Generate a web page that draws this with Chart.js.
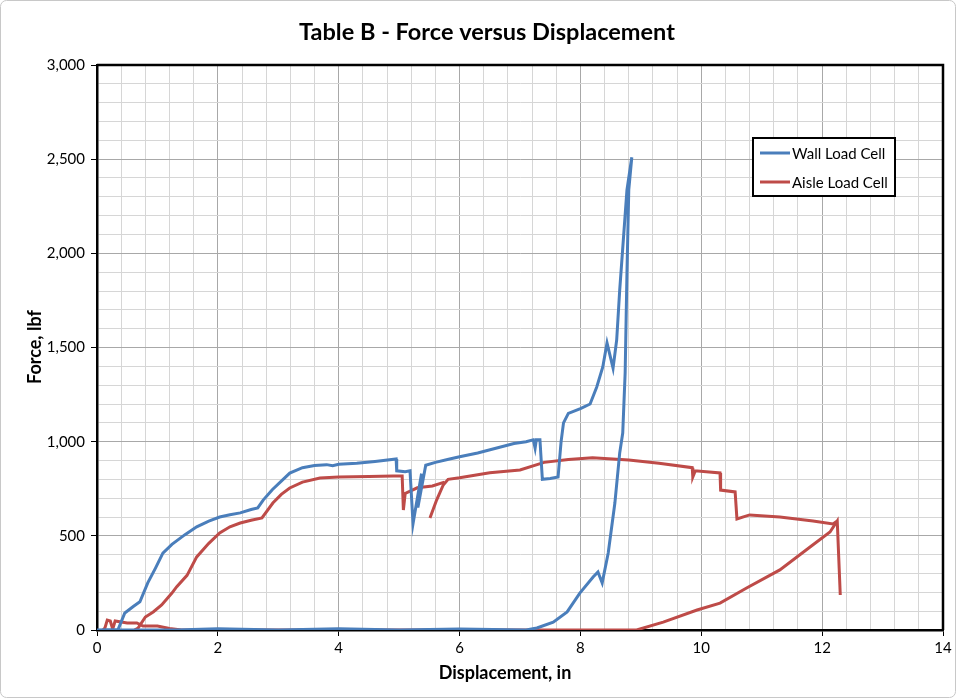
<!DOCTYPE html>
<html>
<head>
<meta charset="utf-8">
<script src="https://cdn.jsdelivr.net/npm/chart.js@4.4.1/dist/chart.umd.min.js"></script>
<style>
  html, body { margin: 0; padding: 0; background: #fff; }
  #wrap { width: 956px; height: 698px; position: relative; }
</style>
</head>
<body>
<div id="wrap"><canvas id="chart" width="956" height="698"></canvas></div>
<script>
const chartTitle = 'Table B - Force versus Displacement';
const xTitle = 'Displacement, in';
const yTitle = 'Force, lbf';
const seriesNames = ['Wall Load Cell', 'Aisle Load Cell'];

// wall load cell: loading to peak, unloading back to zero, then along zero
const wallX = [0, 0.35, 0.46, 0.6, 0.71, 0.84, 0.97, 1.09, 1.24, 1.45, 1.65, 1.85, 2.03, 2.2, 2.37, 2.55, 2.66, 2.75, 2.9, 3.05, 3.19, 3.4, 3.6, 3.8, 3.9, 4.0, 4.3, 4.6, 4.95,
  4.96, 5.1, 5.18, 5.23, 5.37, 5.31, 5.44, 5.6, 5.8, 6.0, 6.3, 6.6, 6.9, 7.1, 7.22, 7.25, 7.27, 7.33, 7.37, 7.5, 7.63, 7.68, 7.72, 7.8, 8.0, 8.16, 8.27, 8.37, 8.44, 8.54, 8.6, 8.65, 8.71, 8.77, 8.85,
  8.8, 8.77, 8.74, 8.7, 8.65, 8.57, 8.46, 8.36, 8.29, 8.21, 7.99, 7.78, 7.55, 7.28, 7.1, 6.0, 5.0, 4.0, 3.0, 2.0, 1.3, 0.35];
const wallY = [0, 3, 90, 125, 150, 250, 330, 408, 455, 505, 548, 578, 600, 612, 622, 640, 648, 690, 745, 790, 833, 862, 873, 878, 872, 880, 885, 895, 908,
  845, 840, 845, 565, 830, 650, 875, 890, 905, 920, 940, 965, 990, 1000, 1010, 965, 1010, 1010, 800, 805, 812, 1000, 1100, 1150, 1175, 1200, 1290, 1397, 1524, 1390, 1540, 1805, 2071, 2337, 2510,
  2337, 1896, 1365, 1046, 940, 674, 409, 250, 308, 281, 196, 96, 42, 11, 0, 5, 0, 6, 0, 6, 0, 0];

// aisle load cell: null entries break the line
const aisleX = [0.1, 0.13, 0.17, 0.22, 0.26, 0.3, 0.5, 0.66, 0.76, 1.0, 1.2, 1.4, 3.5, 6.0, 8.0, 8.93, 9.37, 9.93, 10.31, 10.75, 11.3, 11.8, 12.13, 12.25, 12.3,
  null,
  0.62, 0.68, 0.8, 0.93, 1.07, 1.24, 1.32, 1.49, 1.65, 1.85, 2.03, 2.2, 2.37, 2.55, 2.73, 2.91, 3.05, 3.19, 3.4, 3.69, 4.0, 4.5, 4.9, 5.05, 5.07, 5.1, 5.3, 5.55, 5.75,
  null,
  5.51, 5.62, 5.73, 5.81, 6.0, 6.5, 7.0, 7.4, 7.8, 8.2, 8.8, 9.3, 9.85, 9.86, 9.9, 10.31, 10.32, 10.56, 10.59, 10.8, 11.3, 11.85, 12.18, 12.25];
const aisleY = [0, 10, 53, 48, 5, 48, 37, 37, 21, 21, 8, 0, 0, 0, 0, 0, 42, 106, 143, 223, 319, 441, 520, 579, 186,
  null,
  0, 10, 69, 96, 133, 196, 230, 290, 388, 460, 515, 548, 568, 583, 595, 674, 720, 754, 785, 807, 812, 815, 818, 818, 637, 725, 755, 765, 785,
  null,
  595, 690, 770, 800, 808, 835, 850, 890, 905, 915, 903, 885, 862, 813, 845, 834, 743, 733, 590, 611, 600, 579, 563, 579];

const xMin = 0, xMax = 14, xMajor = 2, xMinor = 0.4;
const yMin = 0, yMax = 3000, yMajor = 500, yMinor = 100;

const toPoints = (xs, ys) => xs.map((x, i) => ({ x: x, y: ys[i] }));
const isMajor = (v, step) => Math.abs(v / step - Math.round(v / step)) < 1e-6;

const FONT = 'Lato';

const framePlugin = {
  id: 'frame',
  beforeDatasetsDraw(chart) {
    const { ctx, chartArea: a } = chart;
    ctx.save();
    ctx.strokeStyle = '#000';
    ctx.lineWidth = 2.5;
    ctx.beginPath();
    ctx.moveTo(a.left, a.top);
    ctx.lineTo(a.right, a.top);
    ctx.lineTo(a.right, a.bottom);
    ctx.stroke();
    ctx.restore();
  },
  afterDraw(chart) {
    const { ctx } = chart;
    ctx.save();
    // outer chart border
    ctx.strokeStyle = '#c8c8c8';
    ctx.lineWidth = 1;
    ctx.beginPath();
    ctx.roundRect(0.5, 0.5, chart.width - 1, chart.height - 1, 6);
    ctx.stroke();

    // titles
    ctx.fillStyle = '#000';
    ctx.textAlign = 'center';
    ctx.textBaseline = 'middle';
    ctx.font = 'bold 23.5px ' + FONT;
    ctx.fillText(chartTitle, 487, 32);
    ctx.font = 'bold 18px ' + FONT;
    ctx.fillText(xTitle, 505, 673);
    ctx.save();
    ctx.translate(35, 347);
    ctx.rotate(-Math.PI / 2);
    ctx.fillText(yTitle, 0, 0);
    ctx.restore();

    // legend box
    const bx = 753, by = 138, bw = 142, bh = 58;
    ctx.fillStyle = '#fff';
    ctx.fillRect(bx, by, bw, bh);
    ctx.strokeStyle = '#000';
    ctx.lineWidth = 2;
    ctx.strokeRect(bx, by, bw, bh);
    ctx.font = '15px ' + FONT;
    ctx.textAlign = 'left';
    chart.data.datasets.forEach((ds, i) => {
      const yy = 153 + i * 29;
      ctx.strokeStyle = ds.borderColor;
      ctx.lineWidth = 3;
      ctx.beginPath();
      ctx.moveTo(760, yy);
      ctx.lineTo(790, yy);
      ctx.stroke();
      ctx.fillStyle = '#000';
      ctx.fillText(ds.label, 792, yy + 1);
    });
    ctx.restore();
  }
};

new Chart(document.getElementById('chart'), {
  type: 'scatter',
  data: {
    datasets: [
      {
        label: seriesNames[0],
        data: toPoints(wallX, wallY),
        showLine: true,
        borderColor: '#4a7ebb',
        backgroundColor: '#4a7ebb',
        borderWidth: 3,
        pointRadius: 0,
        tension: 0
      },
      {
        label: seriesNames[1],
        data: toPoints(aisleX, aisleY),
        showLine: true,
        borderColor: '#be4b48',
        backgroundColor: '#be4b48',
        borderWidth: 3,
        pointRadius: 0,
        tension: 0
      }
    ]
  },
  options: {
    responsive: false,
    animation: false,
    devicePixelRatio: 1,
    layout: { padding: { top: 65, right: 13, left: 0, bottom: 0 } },
    plugins: {
      legend: { display: false },
      title: { display: false },
      tooltip: { enabled: false }
    },
    scales: {
      x: {
        type: 'linear',
        min: xMin,
        max: xMax,
        afterFit: (s) => { s.height = 68; },
        ticks: {
          stepSize: xMinor,
          autoSkip: false,
          maxRotation: 0,
          padding: 3,
          color: '#000',
          font: { family: FONT, size: 15 },
          callback: (v) => isMajor(v, xMajor) ? String(Math.round(v)) : ''
        },
        grid: {
          color: (c) => isMajor(c.tick.value, xMajor) ? '#a8a8a8' : '#d6d6d6',
          tickColor: (c) => isMajor(c.tick.value, xMajor) ? '#000' : 'rgba(0,0,0,0)',
          tickLength: 6,
          lineWidth: 1
        },
        border: { display: true, color: '#000', width: 2.5 }
      },
      y: {
        type: 'linear',
        min: yMin,
        max: yMax,
        afterFit: (s) => { s.width = 97; },
        ticks: {
          stepSize: yMinor,
          autoSkip: false,
          padding: 6,
          color: '#000',
          font: { family: FONT, size: 15 },
          callback: (v) => isMajor(v, yMajor) ? v.toLocaleString('en-US') : ''
        },
        grid: {
          color: (c) => isMajor(c.tick.value, yMajor) ? '#a8a8a8' : '#d6d6d6',
          tickColor: (c) => isMajor(c.tick.value, yMajor) ? '#000' : 'rgba(0,0,0,0)',
          tickLength: 6,
          lineWidth: 1
        },
        border: { display: true, color: '#000', width: 2.5 }
      }
    }
  },
  plugins: [framePlugin]
});
</script>
</body>
</html>
